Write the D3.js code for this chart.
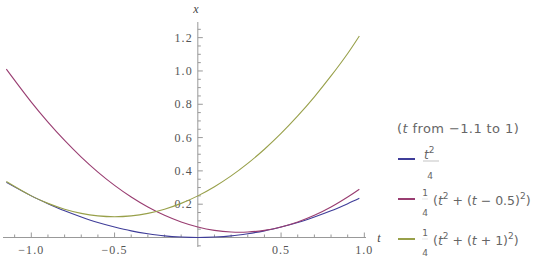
<!DOCTYPE html>
<html>
<meta charset="utf-8">
<head>
<script src="https://cdnjs.cloudflare.com/ajax/libs/d3/7.8.5/d3.min.js"></script>
</head>
<style>
body { margin: 0; background: #fff; }
.tick-label { font-family: "Liberation Serif", "DejaVu Serif", serif; font-size: 12px; letter-spacing: 1.1px; fill: #555; }
.axis-name { font-family: "Liberation Serif", serif; font-style: italic; font-size: 12px; fill: #444; }
.legend { font-family: "DejaVu Sans", sans-serif; font-size: 13px; fill: #666; }
</style>
<body>
<svg id="canvas" width="540" height="265"></svg>
<script>
// sample points of t
var tValues = [-1.15, -1.0, -0.9, -0.8, -0.7, -0.6, -0.5, -0.4, -0.3, -0.2, -0.1, 0,
               0.1, 0.2, 0.3, 0.4, 0.5, 0.6, 0.7, 0.8, 0.9, 0.97];
// t^2/4
var blueVals = [0.331, 0.25, 0.203, 0.16, 0.123, 0.09, 0.063, 0.04, 0.023, 0.01, 0.003, 0,
                0.003, 0.01, 0.023, 0.04, 0.063, 0.09, 0.123, 0.16, 0.203, 0.235];
// 1/4 (t^2 + (t-0.5)^2)
var redVals = [1.011, 0.813, 0.693, 0.583, 0.483, 0.393, 0.313, 0.243, 0.183, 0.133, 0.093, 0.063,
               0.043, 0.033, 0.033, 0.043, 0.063, 0.093, 0.133, 0.183, 0.243, 0.29];
// 1/4 (t^2 + (t+1)^2)
var greenVals = [0.336, 0.25, 0.205, 0.17, 0.145, 0.13, 0.125, 0.13, 0.145, 0.17, 0.205, 0.25,
                 0.305, 0.37, 0.445, 0.53, 0.625, 0.73, 0.845, 0.97, 1.105, 1.21];

var xTicks = [-1.0, -0.5, 0.5, 1.0];
var yTicks = [0.2, 0.4, 0.6, 0.8, 1.0, 1.2];

var colors = ["rgb(63,61,153)", "rgb(153,61,113)", "rgb(152,160,74)"];

var svg = d3.select("#canvas");

var x = d3.scaleLinear().domain([-1.17, 1.01]).range([3, 366]);
var y = d3.scaleLinear().domain([-0.057, 1.294]).range([247, 22]);

var axisColor = "#999";

// axes lines
svg.append("line")
   .attr("x1", x(-1.17)).attr("x2", x(1.01))
   .attr("y1", y(0)).attr("y2", y(0))
   .attr("stroke", axisColor).attr("stroke-width", 1);
svg.append("line")
   .attr("x1", x(0)).attr("x2", x(0))
   .attr("y1", y(-0.057)).attr("y2", y(1.294))
   .attr("stroke", axisColor).attr("stroke-width", 1);

// x ticks (major + minor, pointing into the plot)
var xMinor = d3.range(-11, 11).map(function(i) { return i / 10; })
               .filter(function(v) { return Math.abs(v) > 1e-9; });
svg.append("g").selectAll("line").data(xMinor).join("line")
   .attr("x1", function(d) { return x(d); })
   .attr("x2", function(d) { return x(d); })
   .attr("y1", y(0))
   .attr("y2", function(d) {
       var major = Math.abs(d * 2 - Math.round(d * 2)) < 1e-9;
       return y(0) - (major ? 5 : 3);
   })
   .attr("stroke", axisColor);

svg.append("g").selectAll("text").data(xTicks).join("text")
   .attr("class", "tick-label")
   .attr("x", function(d) { return x(d); })
   .attr("y", y(0) + 16)
   .attr("text-anchor", "middle")
   .text(function(d) { return d3.format(".1f")(d).replace("-", "\u2212"); });

// y ticks
var yMinor = d3.range(-1, 26).map(function(i) { return i * 0.05; })
               .filter(function(v) { return Math.abs(v) > 1e-9; });
svg.append("g").selectAll("line").data(yMinor).join("line")
   .attr("y1", function(d) { return y(d); })
   .attr("y2", function(d) { return y(d); })
   .attr("x1", x(0))
   .attr("x2", function(d) {
       var major = Math.abs(d * 5 - Math.round(d * 5)) < 1e-9;
       return x(0) + (major ? 5 : 3);
   })
   .attr("stroke", axisColor);

svg.append("g").selectAll("text").data(yTicks).join("text")
   .attr("class", "tick-label")
   .attr("x", x(0) - 5)
   .attr("y", function(d) { return y(d) + 4; })
   .attr("text-anchor", "end")
   .text(function(d) { return d3.format(".1f")(d); });

// axis names
svg.append("text").attr("class", "axis-name")
   .attr("x", x(0) - 2).attr("y", 13).attr("text-anchor", "middle").text("x");
svg.append("text").attr("class", "axis-name")
   .attr("x", x(1.01) + 13).attr("y", y(0) + 4).attr("text-anchor", "middle").text("t");

// curves
var line = d3.line()
    .x(function(d) { return x(d[0]); })
    .y(function(d) { return y(d[1]); })
    .curve(d3.curveCatmullRom.alpha(0.5));

[blueVals, redVals, greenVals].forEach(function(vals, i) {
    svg.append("path")
       .datum(tValues.map(function(t, j) { return [t, vals[j]]; }))
       .attr("d", line)
       .attr("fill", "none")
       .attr("stroke", colors[i])
       .attr("stroke-width", 1.1);
});

// legend
var lg = svg.append("g").attr("class", "legend");
var title = lg.append("text").attr("x", 397).attr("y", 133).attr("letter-spacing", "0.4px");
title.append("tspan").text("(");
title.append("tspan").attr("font-style", "italic").text("t");
title.append("tspan").text(" from \u22121.1 to 1)");

var rows = [159, 199, 239];
rows.forEach(function(cy, i) {
    lg.append("line")
      .attr("x1", 398).attr("x2", 415)
      .attr("y1", cy).attr("y2", cy)
      .attr("stroke", colors[i]).attr("stroke-width", 2);
});

// row 1: t^2 / 4
var num = lg.append("text").attr("x", 424).attr("y", 159).attr("font-size", "12px");
num.append("tspan").attr("font-style", "italic").text("t");
num.append("tspan").attr("font-size", "9px").attr("dy", -6).text("2");
lg.append("line").attr("x1", 423).attr("x2", 439).attr("y1", 161).attr("y2", 161)
  .attr("stroke", "#aaa").attr("stroke-width", 0.7);
lg.append("text").attr("x", 430).attr("y", 179).attr("font-size", "9px")
  .attr("text-anchor", "middle").text("4");

// rows 2 and 3: 1/4 (t^2 + (t ± c)^2)
var tails = [" \u2212 0.5)", " + 1)"];
[199, 239].forEach(function(cy, i) {
    lg.append("text").attr("x", 425).attr("y", cy - 3).attr("font-size", "9px")
      .attr("text-anchor", "middle").text("1");
    lg.append("line").attr("x1", 422).attr("x2", 428).attr("y1", cy).attr("y2", cy)
      .attr("stroke", "#ccc").attr("stroke-width", 0.5);
    lg.append("text").attr("x", 425).attr("y", cy + 17).attr("font-size", "9px")
      .attr("text-anchor", "middle").text("4");
    var tx = lg.append("text").attr("x", 433).attr("y", cy + 6).attr("font-size", "12.5px");
    tx.append("tspan").text("(");
    tx.append("tspan").attr("font-style", "italic").text("t");
    tx.append("tspan").attr("font-size", "9px").attr("dy", -6).text("2");
    tx.append("tspan").attr("dy", 6).text(" + (");
    tx.append("tspan").attr("font-style", "italic").text("t");
    tx.append("tspan").text(tails[i]);
    tx.append("tspan").attr("font-size", "9px").attr("dy", -6).text("2");
    tx.append("tspan").attr("dy", 6).text(")");
});
</script>
</body>
</html>
